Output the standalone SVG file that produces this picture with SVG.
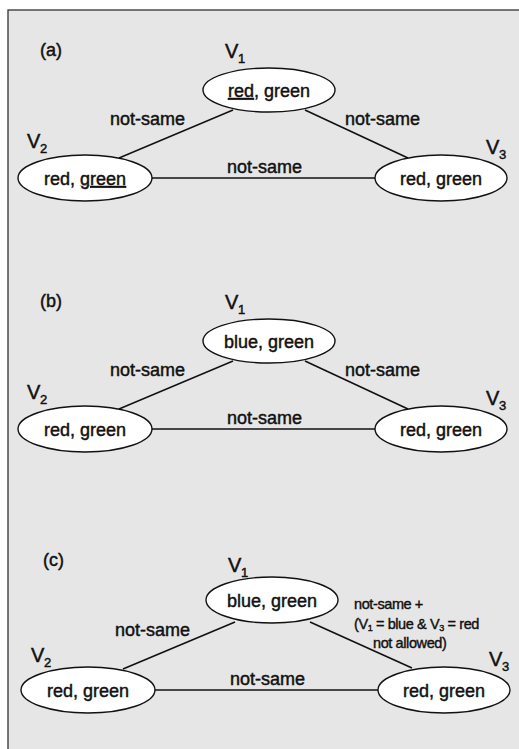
<svg xmlns="http://www.w3.org/2000/svg" width="519" height="749" viewBox="0 0 519 749">
<style>
text{font-family:"Liberation Sans",Arial,Helvetica,sans-serif;fill:#111;stroke:#111;stroke-width:0.45px;}
.t{font-size:18px;}
.v{font-size:20px;}
.c{font-size:18px;text-anchor:middle;}
.s{font-size:13px;}
.a{font-size:14.5px;letter-spacing:-0.4px;stroke-width:0.4px;}
.n{fill:#fff;stroke:#111;stroke-width:1.4;}
.e{stroke:#111;stroke-width:1.6;fill:none;}
.u{text-decoration:underline;}
</style>
<rect x="8" y="10" width="530" height="760" fill="#e6e6e6" stroke="#333" stroke-width="1.3"/>

<g id="connectors">
  <line class="e" x1="233" y1="110" x2="119" y2="158"/>
  <line class="e" x1="305" y1="110" x2="408" y2="158"/>
  <line class="e" x1="152" y1="178" x2="375" y2="178"/>
  <line class="e" x1="233" y1="361" x2="119" y2="409"/>
  <line class="e" x1="305" y1="361" x2="408" y2="409"/>
  <line class="e" x1="152" y1="429" x2="375" y2="429"/>
  <line class="e" x1="235" y1="622" x2="123" y2="669"/>
  <line class="e" x1="310" y1="622" x2="412" y2="668"/>
  <line class="e" x1="155" y1="690" x2="378" y2="690"/>
</g>

<g id="panel-a">
  <text class="t" x="40" y="56">(a)</text>
  <g id="a-v1">
    <ellipse class="n" cx="269" cy="90" rx="66" ry="22"/>
    <text class="c" x="269" y="97"><tspan class="u">red</tspan>, green</text>
    <text class="v" x="225" y="58">V</text><text class="s" x="238" y="63">1</text>
  </g>
  <g id="a-v2">
    <ellipse class="n" cx="85" cy="178" rx="67" ry="23"/>
    <text class="c" x="85" y="185">red, <tspan class="u">green</tspan></text>
    <text class="v" x="27" y="148">V</text><text class="s" x="40" y="153">2</text>
  </g>
  <g id="a-v3">
    <ellipse class="n" cx="441" cy="178" rx="66" ry="23"/>
    <text class="c" x="441" y="185">red, green</text>
    <text class="v" x="486" y="154">V</text><text class="s" x="499" y="159">3</text>
  </g>
  <text class="t" x="110" y="125">not-same</text>
  <text class="t" x="345" y="125">not-same</text>
  <text class="t" x="227" y="173">not-same</text>
</g>

<g id="panel-b">
  <text class="t" x="40" y="307">(b)</text>
  <g id="b-v1">
    <ellipse class="n" cx="269" cy="341" rx="66" ry="22"/>
    <text class="c" x="269" y="348">blue, green</text>
    <text class="v" x="225" y="309">V</text><text class="s" x="238" y="314">1</text>
  </g>
  <g id="b-v2">
    <ellipse class="n" cx="85" cy="429" rx="67" ry="23"/>
    <text class="c" x="85" y="436">red, green</text>
    <text class="v" x="27" y="399">V</text><text class="s" x="40" y="404">2</text>
  </g>
  <g id="b-v3">
    <ellipse class="n" cx="441" cy="429" rx="66" ry="23"/>
    <text class="c" x="441" y="436">red, green</text>
    <text class="v" x="486" y="405">V</text><text class="s" x="499" y="410">3</text>
  </g>
  <text class="t" x="110" y="376">not-same</text>
  <text class="t" x="345" y="376">not-same</text>
  <text class="t" x="227" y="424">not-same</text>
</g>

<g id="panel-c">
  <text class="t" x="43" y="566">(c)</text>
  <g id="c-v1">
    <ellipse class="n" cx="272" cy="600" rx="66" ry="23"/>
    <text class="c" x="272" y="607">blue, green</text>
    <text class="v" x="228" y="572">V</text><text class="s" x="241" y="577">1</text>
  </g>
  <g id="c-v2">
    <ellipse class="n" cx="88" cy="690" rx="67" ry="23"/>
    <text class="c" x="88" y="697">red, green</text>
    <text class="v" x="31" y="662">V</text><text class="s" x="44" y="667">2</text>
  </g>
  <g id="c-v3">
    <ellipse class="n" cx="444" cy="690" rx="66" ry="23"/>
    <text class="c" x="444" y="697">red, green</text>
    <text class="v" x="489" y="666">V</text><text class="s" x="502" y="671">3</text>
  </g>
  <text class="t" x="115" y="636">not-same</text>
  <text class="t" x="230" y="685">not-same</text>
  <text class="a" x="354" y="609">not-same +</text>
  <text class="a" x="354" y="629">(V<tspan font-size="9px" dy="2">1</tspan><tspan dy="-2"> = blue &amp; V</tspan><tspan font-size="9px" dy="2">3</tspan><tspan dy="-2"> = red</tspan></text>
  <text class="a" x="373" y="648">not allowed)</text>
</g>
</svg>
